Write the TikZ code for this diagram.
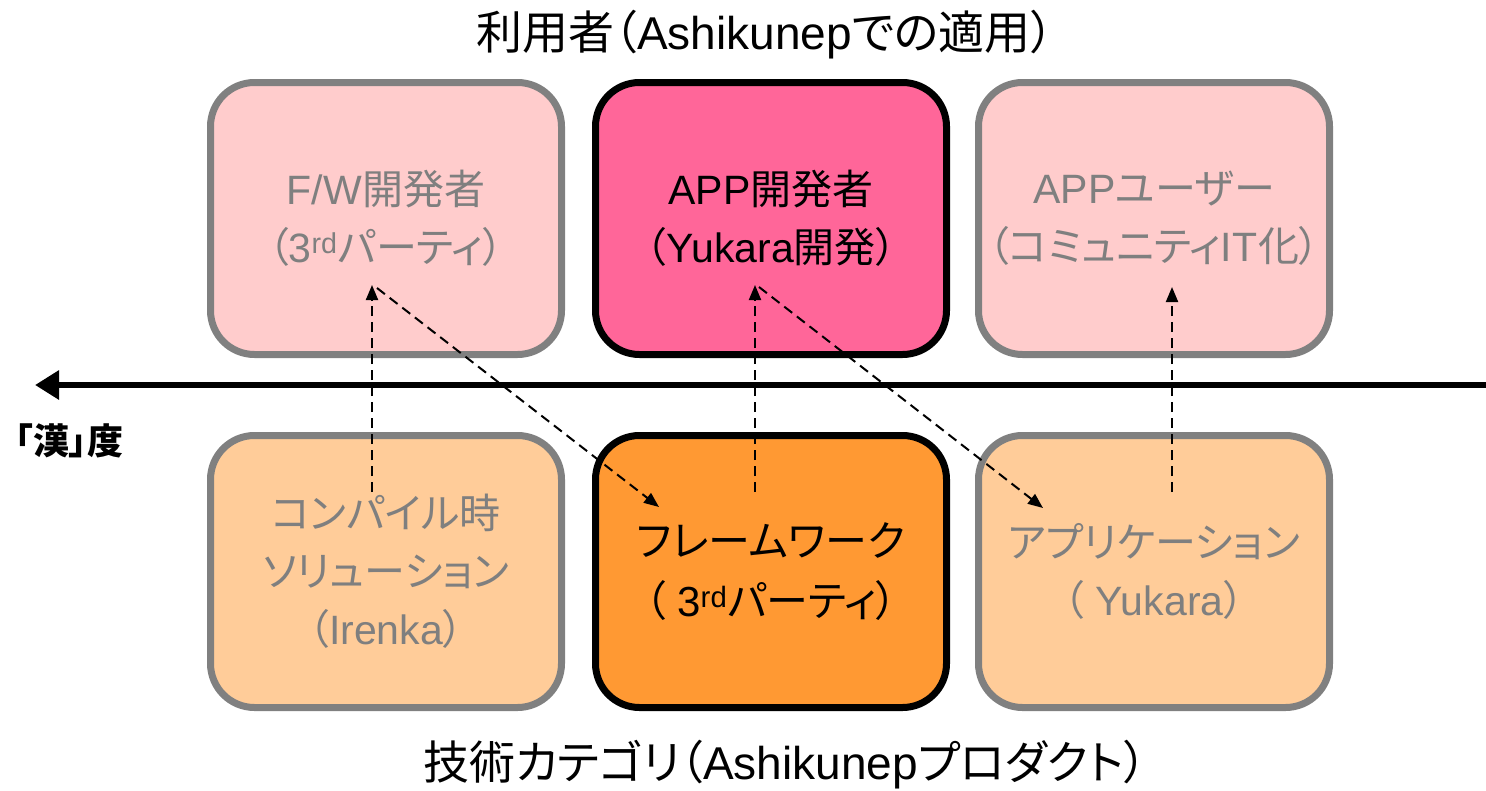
\documentclass[tikz,border=0pt]{standalone}
\usepackage{fontspec}
\setmainfont{Liberation Sans}
\newfontfamily\jp[RawFeature=+palt]{Noto Sans CJK JP}
\usetikzlibrary{arrows.meta}
\definecolor{pinkL}{HTML}{FFCCCC}
\definecolor{pinkD}{HTML}{FF6699}
\definecolor{orL}{HTML}{FFCC99}
\definecolor{orD}{HTML}{FF9933}
\definecolor{gr}{HTML}{808080}
\definecolor{txg}{HTML}{7F7F7F}
\begin{document}
\begin{tikzpicture}[x=1pt,y=-1pt,
  box/.style={rounded corners=44pt, minimum width=351pt, minimum height=272pt,
    line width=7pt, align=center, inner sep=0pt,
    font=\fontsize{41}{58}\selectfont},
  faded/.style={box, draw=gr, text=txg},
  strong/.style={box, draw=black, text=black},
  title/.style={font=\fontsize{46}{50}\selectfont, inner sep=0pt},
  link/.style={dashed, dash pattern=on 10pt off 6pt, line width=2pt, -{Triangle[length=15pt,width=12pt]}},
  axis/.style={line width=6pt, -{Triangle[length=24pt,width=28pt]}}
]
\useasboundingbox (0,0) rectangle (1486,790);

\node[title] (t1) at (765,35) {{\jp 利用者（}Ashikunep{\jp での適用）}};
\node[title] (t2) at (785,765) {{\jp 技術カテゴリ（}Ashikunep{\jp プロダクト）}};

\node[faded, fill=pinkL] (fw) at (386,218.5) {F/W{\jp 開発者}\\{\jp （}3\textsuperscript{rd}{\jp パーティ）}};
\node[strong, fill=pinkD] (app) at (771,218.5) {APP{\jp 開発者}\\{\jp （}Yukara{\jp 開発）}};
\node[faded, fill=pinkL] (user) at (1154,218.5) {APP{\jp ユーザー}\\{\jp （コミュニティ}IT\kern1pt{\jp 化）}};

\node[faded, fill=orL] (comp) at (386,571.5) {{\jp コンパイル時}\\{\jp ソリューション}\\{\jp （}Irenka{\jp ）}};
\node[strong, fill=orD, font=\fontsize{42}{60}\selectfont] (frame) at (771,571.5) {{\jp フレームワーク}\\{\jp （} 3\textsuperscript{rd}{\jp パーティ）}};
\node[faded, fill=orL] (appl) at (1154,571.5) {{\jp アプリケーション}\\{\jp （} Yukara{\jp ）}};

\coordinate (ax1) at (1486,385);
\coordinate (ax2) at (35,385);
\draw[axis] (ax1) -- (ax2);
\node[font=\fontsize{36}{40}\selectfont\jp\bfseries, inner sep=0pt] (kan) at (69,441) {「漢」度};

\coordinate (c1s) at (372,492);
\coordinate (c1e) at (372,285);
\coordinate (d1s) at (377,288);
\coordinate (d1e) at (659,507);
\coordinate (c2s) at (755,492);
\coordinate (c2e) at (755,285);
\coordinate (d2s) at (759,287);
\coordinate (d2e) at (1043,508);
\coordinate (c3s) at (1172,492);
\coordinate (c3e) at (1172,287);
\draw[link] (c1s) -- (c1e);
\draw[link] (d1s) -- (d1e);
\draw[link] (c2s) -- (c2e);
\draw[link] (d2s) -- (d2e);
\draw[link] (c3s) -- (c3e);
\end{tikzpicture}
\end{document}
